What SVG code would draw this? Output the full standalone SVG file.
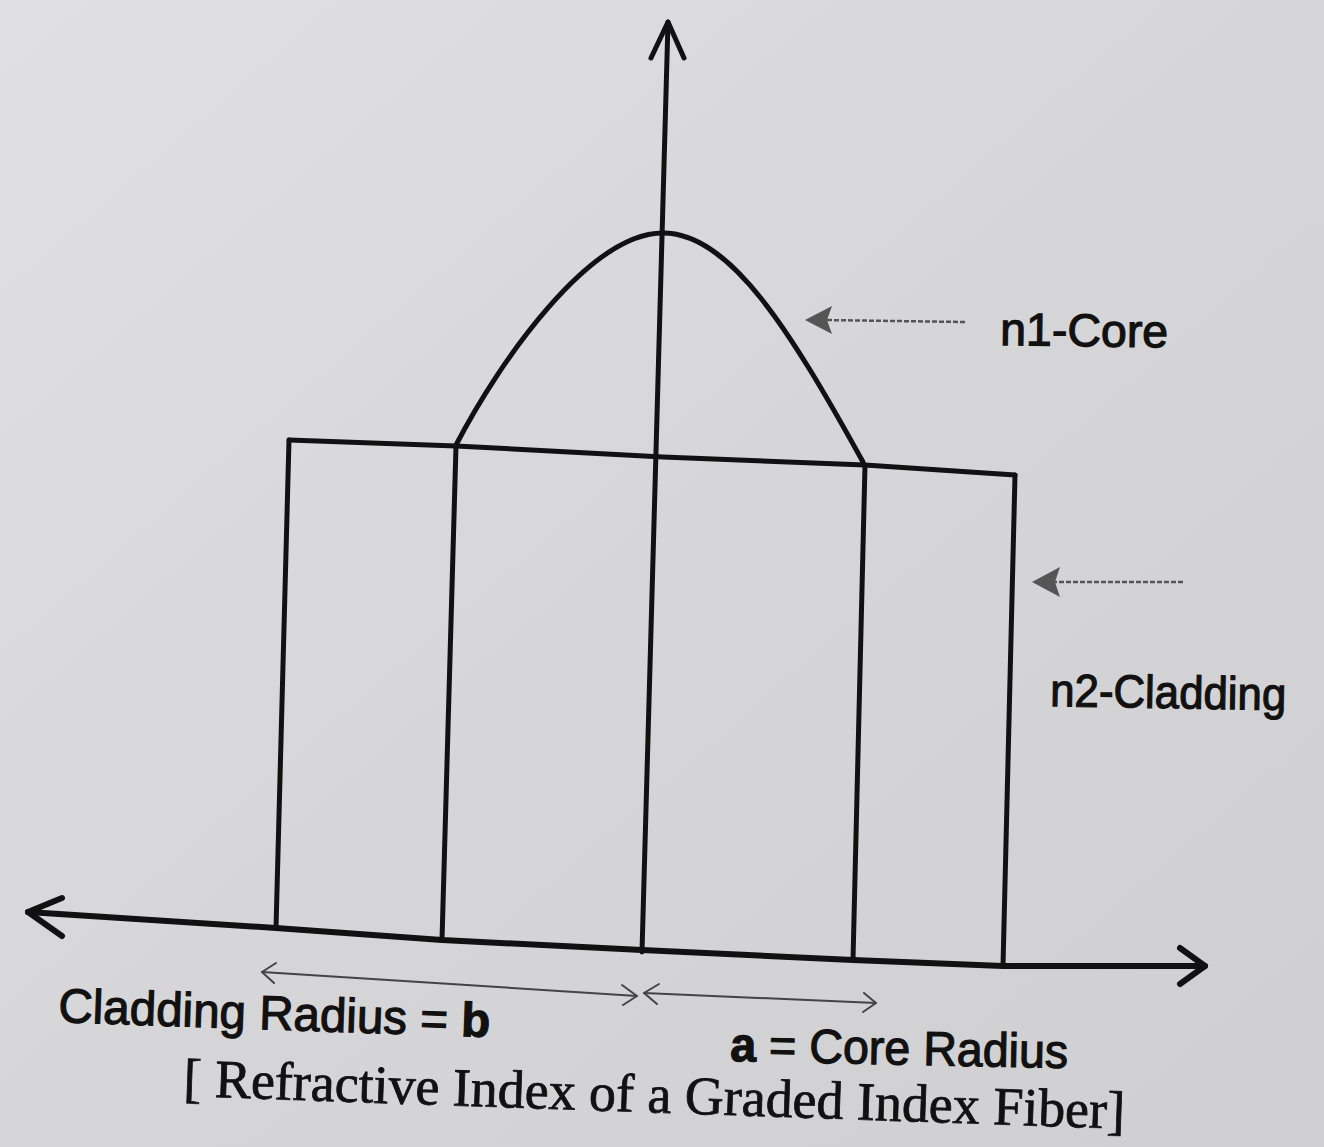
<svg xmlns="http://www.w3.org/2000/svg" width="1324" height="1147" viewBox="0 0 1324 1147">
<defs>
<linearGradient id="bg" x1="0" y1="0" x2="1" y2="1">
<stop offset="0" stop-color="#e0e0e2"/>
<stop offset="0.5" stop-color="#d6d6d8"/>
<stop offset="1" stop-color="#cfcfd1"/>
</linearGradient>
<style>
.ln{fill:none;stroke:#111;stroke-width:5;stroke-linecap:round;stroke-linejoin:round}
.ax{fill:none;stroke:#111;stroke-width:6;stroke-linecap:round;stroke-linejoin:round}
.dot{fill:none;stroke:#555;stroke-width:2.5;stroke-dasharray:5 2}
.head{fill:#555}
.dim{fill:none;stroke:#444;stroke-width:2;stroke-linecap:round;stroke-linejoin:round}
.lbl{font-family:"Liberation Sans",Arial,sans-serif;fill:#111;stroke:#111;stroke-width:1.2}
.cap{font-family:"Liberation Serif","Times New Roman",serif;fill:#111;stroke:#111;stroke-width:0.8}
</style>
</defs>
<rect width="1324" height="1147" fill="url(#bg)"/>

<g id="axes">
<path class="ax" d="M28,912 L276,928 L442,940 L642,950 L853,960 L1003,966 L1205,966"/>
<polyline class="ax" points="62,898 28,912 62,936"/>
<polyline class="ax" points="1180,948 1205,966 1180,984"/>
<path class="ln" d="M668,22 L642,952"/>
<polyline class="ln" points="651,58 668,22 684,58"/>
</g>

<g id="profile">
<path class="ln" d="M289,440 L456,446 L663,457 L865,465 L1015,475"/>
<path class="ln" d="M289,440 L276,928"/>
<path class="ln" d="M456,446 L442,940"/>
<path class="ln" d="M865,465 L853,960"/>
<path class="ln" d="M1015,475 L1003,966"/>
<path class="ln" d="M456,445 C500,360 590,233 663,233 C730,233 790,330 863,462"/>
</g>

<g id="connectors">
<path class="dot" d="M965,322 L825,320"/>
<polygon class="head" points="805,320 832,306 827,320 832,334"/>
<path class="dot" d="M1183,582 L1052,582"/>
<polygon class="head" points="1032,582 1060,567 1055,582 1060,597"/>
<path class="dim" d="M262,972 L637,996"/>
<polyline class="dim" points="276,963 262,972 274,983"/>
<polyline class="dim" points="622,985 637,996 623,1005"/>
<path class="dim" d="M644,993 L876,1003"/>
<polyline class="dim" points="659,984 644,993 657,1004"/>
<polyline class="dim" points="864,993 876,1003 863,1012"/>
</g>

<g id="labels">
<text class="lbl" x="1000" y="345" font-size="46" textLength="168" lengthAdjust="spacingAndGlyphs" transform="rotate(0.8 1000 345)">n1-Core</text>
<text class="lbl" x="1050" y="706" font-size="46" textLength="236" lengthAdjust="spacingAndGlyphs" transform="rotate(1 1050 706)">n2-Cladding</text>
<text class="lbl" x="58" y="1022" font-size="48" textLength="432" lengthAdjust="spacingAndGlyphs" transform="rotate(2 58 1022)">Cladding Radius = <tspan font-weight="bold">b</tspan></text>
<text class="lbl" x="730" y="1061" font-size="48" textLength="338" lengthAdjust="spacingAndGlyphs" transform="rotate(1.2 730 1061)"><tspan font-weight="bold">a</tspan> = Core Radius</text>
<text class="cap" x="183" y="1096" font-size="54" textLength="942" lengthAdjust="spacingAndGlyphs" transform="rotate(2 183 1096)">[ Refractive Index of a Graded Index Fiber]</text>
</g>
</svg>
